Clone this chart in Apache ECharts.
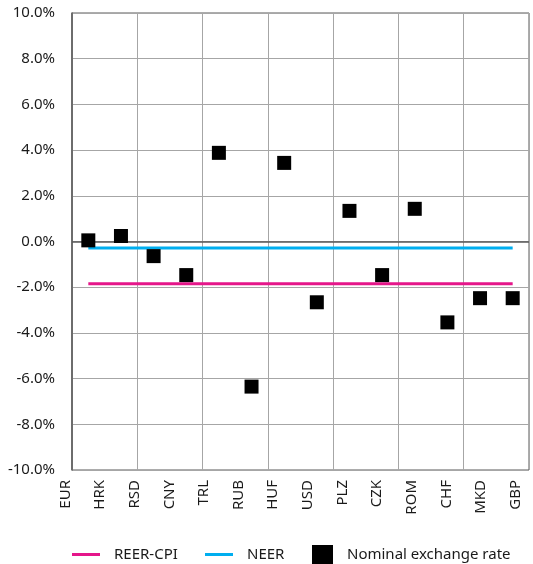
<!DOCTYPE html>
<html>
<head>
<meta charset="utf-8">
<script src="https://cdn.jsdelivr.net/npm/echarts@6/dist/echarts.min.js"></script>
<style>
  html, body { margin: 0; padding: 0; background: #fff; }
  #chart { width: 533px; height: 564px; }
</style>
</head>
<body>
<div id="chart"></div>
<script>
const currencies = ['EUR', 'HRK', 'RSD', 'CNY', 'TRL', 'RUB', 'HUF', 'USD', 'PLZ', 'CZK', 'ROM', 'CHF', 'MKD', 'GBP']
// values in %
const reerCpi = [-1.85, -1.85, -1.85, -1.85, -1.85, -1.85, -1.85, -1.85, -1.85, -1.85, -1.85, -1.85, -1.85, -1.85]
const neer = [-0.28, -0.28, -0.28, -0.28, -0.28, -0.28, -0.28, -0.28, -0.28, -0.28, -0.28, -0.28, -0.28, -0.28]
const nominal = [0.05, 0.24, -0.64, -1.47, 3.88, -6.35, 3.44, -2.66, 1.34, -1.47, 1.43, -3.54, -2.48, -2.48]

const FONT = 'Noto Sans'
const chart = echarts.init(document.getElementById('chart'))

const legendText = { fontFamily: FONT, fontSize: 15, color: '#1a1a1a', padding: [0, 0, 0, 9] }

chart.setOption({
  animation: false,
  textStyle: { fontFamily: FONT },
  grid: [
    { left: 72, width: 457, top: 13, bottom: 94, show: true, borderColor: '#595959', borderWidth: 1 },
    // only used to place the category labels like the original
    { left: 48, width: 494, top: 13, bottom: 94 }
  ],
  legend: [
    { data: ['REER-CPI'], left: 67, top: 542, icon: 'rect', itemWidth: 28, itemHeight: 3, textStyle: legendText },
    { data: ['NEER'], left: 200, top: 542, icon: 'rect', itemWidth: 28, itemHeight: 3, textStyle: legendText },
    { data: ['Nominal exchange rate'], left: 307, top: 540, icon: 'rect', itemWidth: 21, itemHeight: 20, textStyle: legendText }
  ],
  xAxis: [
    {
      type: 'category', data: currencies, gridIndex: 0, boundaryGap: true,
      axisLine: { show: false }, axisTick: { show: false }, axisLabel: { show: false },
      splitLine: { show: true, lineStyle: { color: '#a6a6a6', width: 1 } }
    },
    {
      type: 'category', data: currencies, gridIndex: 1,
      axisLine: { show: false }, axisTick: { show: false }, splitLine: { show: false },
      axisLabel: { rotate: 90, margin: 10, interval: 0, fontSize: 15, color: '#1a1a1a', fontFamily: FONT }
    }
  ],
  yAxis: [
    {
      type: 'value', gridIndex: 0, min: -10, max: 10, interval: 2,
      axisLine: { show: true, lineStyle: { color: '#595959', width: 1.5 } },
      axisTick: { show: false },
      splitLine: { show: true, lineStyle: { color: '#a6a6a6', width: 1 } },
      axisLabel: { margin: 17, fontSize: 15, color: '#1a1a1a', fontFamily: FONT, formatter: v => v.toFixed(1) + '%' }
    },
    { type: 'value', gridIndex: 1, show: false, min: -10, max: 10 }
  ],
  series: [
    {
      name: 'REER-CPI', type: 'line', data: reerCpi, showSymbol: false, symbol: 'none',
      itemStyle: { color: '#e5168a' }, lineStyle: { color: '#e5168a', width: 3 },
      markLine: {
        silent: true, symbol: 'none', label: { show: false },
        lineStyle: { color: '#595959', width: 1.5, type: 'solid' },
        data: [{ yAxis: 0 }]
      }
    },
    {
      name: 'NEER', type: 'line', data: neer, showSymbol: false, symbol: 'none',
      itemStyle: { color: '#00aeef' }, lineStyle: { color: '#00aeef', width: 3 }
    },
    {
      name: 'Nominal exchange rate', type: 'scatter', data: nominal, symbol: 'rect', symbolSize: 14,
      itemStyle: { color: '#000', opacity: 1 }, z: 5
    }
  ]
})
</script>
</body>
</html>
